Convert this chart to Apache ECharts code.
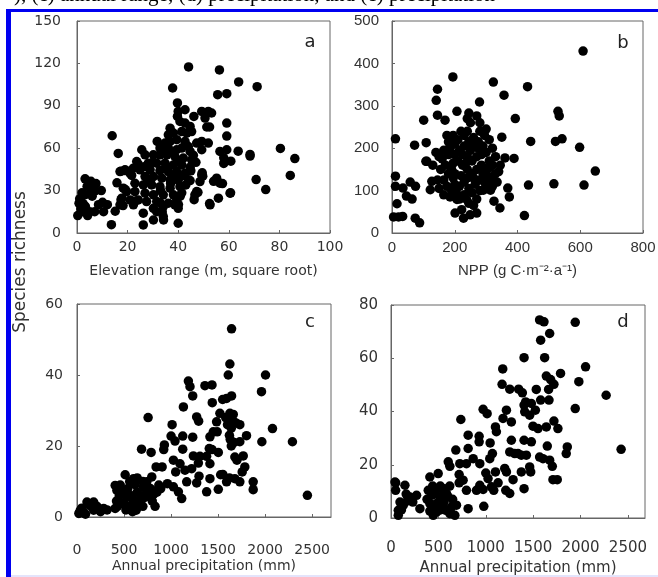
<!DOCTYPE html>
<html><head><meta charset="utf-8">
<script src="https://cdn.jsdelivr.net/npm/echarts@6/dist/echarts.min.js"></script>
<style>html,body{margin:0;padding:0;background:#fff}#c{width:658px;height:577px}</style>
</head><body><div id="c"></div>
<script>
// ---------- DATA ----------
const yTitle = "Species richness";
const panelLetters = ["a", "b", "c", "d"];
const xTitles = ["Elevation range (m, square root)", "NPP (g C·m⁻²·a⁻¹)", "Annual precipitation (mm)", "Annual precipitation (mm)"];
const captionText = "), (c) annual range, (d) precipitation, and (c) precipitation";

const pointsA = [
[44.1,117.5],[56.3,115.4],[63.9,106.9],[71.2,103.5],[37.8,102.6],[55.6,97.9],[59.2,98.6],[39.7,92],[40,86],[39.7,82.5],[42.7,87.2],[46.2,82.5],[49.3,86],[51.9,86],[53.2,84.9],[50.6,81.3],[51.3,75],[52.4,75],[59.2,77.8],[40.7,78.9],[42.7,77.8],[44.7,75.4],[36.8,74.2],[38.1,70.7],[41.4,71.8],[43.4,70.7],[45.3,71.8],[36.1,69.5],
[47.3,63.6],[51.9,63.6],[49.3,64.8],[34.8,63.6],[36.8,64.8],[39.4,66],[42.7,64.8],[31.7,64.8],[59.2,68.6],[13.9,68.8],[32.8,60.1],[36.1,60.1],[39.4,58.9],[41.4,60.1],[44,61.2],[44.7,57.7],[49.3,58.9],[56.5,57.7],[59.2,58.9],[63.7,57.9],[68.4,55.6],[68.4,54.4],[80.4,59.8],[86.1,52.7],[84.3,40.7],[70.8,37.8],[74.6,30.7],[60.7,28.4],[55.9,24.6],[52.4,20.8],[54,36.6],[57.5,35],[49.5,42.6],[49.7,40.2],[47.8,28.8],[46.3,23.6],[58,53.2],[60.8,50.8],[58,49.2],[16.3,56.3],
[25.6,58.9],[26.9,55.3],[30.2,55.3],[32.8,55.3],[35.5,55.3],[38.7,54.1],[42,53],[45.3,51.8],[23.6,50.6],[28.2,49.4],[31.5,49.4],[34.8,49.4],[38.1,48.2],[41.4,48.2],[44.7,46.6],[19,44.7],[22.3,45.9],[24.9,44.7],[28.9,44.7],[32.8,44.2],[36.1,43.5],[39.4,43.5],[42.7,42.3],[17,43.5],[20.9,42.3],[26.9,39.9],[30.2,39.9],[33.5,38.8],[36.8,37.6],[40,37.6],[44,37.6],[49.3,41.1],[48.6,36.4],[55.2,38.8],[56.5,35.2],
[22.9,35.2],[26.2,34],[29.5,34],[32.8,32.8],[36.8,31.7],[40.7,32.8],[18.3,31.7],[19.6,29.3],[22.9,29.3],[26.9,28.2],[30.2,27],[34.1,27],[38.1,27],[47.3,29.3],[60.5,28.2],[17.7,24.6],[21,23.4],[24.2,23.4],[27.5,22.2],[31.5,22.2],[36.1,21.1],[39.4,23.4],[46.6,27],[17,19.9],[22.3,19.9],[30.2,17.5],[34.1,18.7],[38.7,19.9],[40,17.5],[52.6,19.9],[26.2,14],[31.5,15.1],[34.1,11.6],[30.2,9.2],[26.2,5.7],[40,6.9],[13.6,5.9],[15.1,15.4],[15.8,35.5],[17.4,43.7],[18.7,44.2],[17.4,23.6],[18.2,19.4],[19.1,30.7],[20.8,43.7],[21.6,40.7],[22.9,22.5],[24.3,48.5],
[3.2,38.3],[5.5,36.6],[2,28.4],[1.05,24.1],[0.3,12.3],[2.4,20.8],[3.3,18.9],[4.2,12.3],[5,15.1],[7,15.1],[10.1,21.7],[10.5,15.1],[5.5,30.7],[9.6,30],[7,29.6],[0.8,21],[1.5,17],[6,26],[8.5,20],[12,20],[3,27],[4,33],[7.5,35],[2,15],
[44.7,37.1],[41.4,28.4],[40.8,26],[40.1,20.1],[32.9,21.3],[33.7,14.9],[34.2,9.2],[46,55],[47,50],[45,44],[38,40],[35,46],[30,50],[27,47],[29,36],[33,30],[37,35],[41,40],[43,34],[40,51],[37,57],[34,58]
];

const pointsB = [
[609,429],[194,368],[323,356],[432,345],[145,339],[357,325],[141,313],[279,309],[145,278],[207,287],[245,283],[270,276],[101,266],[169,266],[393,270],[529,287],[533,276],[542,222],[521,216],[598,202],[442,216],[350,226],[11,222],[72,207],[109,213],[111,169],[648,146],[612,113],[516,116],[435,113],[369,106],[389,176],[360,177],[374,85],[422,41],[344,59],[325,75],[11,134],[11,110],[35,106],[58,120],[75,110],[46,87],[64,80],[16,69],[5,38],[21,38],[34,39],[74,35],[88,24],[122,102],[127,122],[108,169],[207,79],[201,47],[222,55],[228,35],[249,43],[270,47],[238,79],[270,80],[291,101],[314,101],[311,154],
[140,190],[150,180],[160,175],[175,230],[180,215],[185,200],[170,160],[155,150],[180,140],[195,130],[165,125],[175,110],[190,100],[205,95],[215,110],[230,120],[245,105],[255,95],[265,115],[280,125],[295,120],[305,135],[320,130],[330,140],[340,145],[300,150],[285,160],[270,150],[255,140],[240,150],[225,160],[210,170],[195,165],[200,185],[215,195],[230,205],[245,215],[260,225],[275,215],[290,205],[300,190],[285,185],[270,180],[255,170],[240,180],[225,185],[210,220],[195,230],[220,240],[240,240],[260,210],[280,240],[300,245],[310,220],[320,200],[330,180],[310,170],[320,160],[345,160],[335,120],[320,110],[300,110],[280,100],[260,130],[240,130],[220,135],[200,140],[190,150],[180,185],[165,195],[230,230],[250,260],[280,260],[240,270],[200,210],[145,125],[130,160],[150,105],[165,90],[185,85],[200,115],[215,80],[245,70],[260,65],[230,90],[290,140],[310,125],[295,230],[275,200],[250,195],[235,165]
];

const pointsC = [
[1643,53],[1625,43.1],[1608,40],[2004,40],[1961,35.3],[1184,38.3],[1201,36.7],[1230,34.1],[1435,37.2],[1360,37],[1131,31],[1438,32.2],[1548,33.1],[1590,33.4],[1643,34.1],[756,28],[1272,28.2],[1293,27],[1519,29.2],[1625,29.2],[1661,28.9],[1484,26.8],[1011,26],[1731,26],[2078,24.9],[1802,22.9],[2290,21.2],[1965,21.2],[1731,21.2],[1629,21.8],[1230,22.5],[1124,22.8],[1000,22.8],[1042,21.4],[929,20.3],[922,19],[686,19.1],[788,18.2],[1413,22.6],[1449,24],[1124,19.1],[1237,17.2],[1307,17.1],[1406,19.3],[1435,19],[1378,17.1],[1413,15],[1502,18.2],[1678,16.9],[1767,17.2],[1784,14.1],[1756,12.7],[1678,10.8],[1731,9.9],[1873,9.9],[1873,7.7],[2449,6.1],[1502,7.8],[1378,7.1],[1413,10.8],[1527,11.9],[1590,9.9],[1272,9.6],[1297,11.5],[1166,9.9],[1113,5.2],[1078,7.1],[1025,8.5],[961,9.4],[905,14.1],[841,14.1],[795,11.3],[742,9.9],[1025,16],[1095,15],[1148,13.2],[1219,13.6],[1290,15.2],[1049,12.7],
[1600,26],[1640,25],[1660,27],[1690,26.5],[1580,28],[1640,20],[1620,23],[1490,24],[1550,12],[1620,11],[1700,16],[1670,21],
[35,1.9],[71,1.4],[106,4.2],[177,4.2],[177,1.9],[212,3],[283,2.4],[406,2.4],[406,8.9],[424,7.5],[512,11.9],[601,10.8],[618,9.1],[707,8.5],[742,7.1],[830,3],[813,6.4],[671,5.2],[629,1.9],[530,5.6],[477,3.8],[20,1],[50,2.5],[90,0.8],[140,3.2],[250,1.5],[320,2],[420,4.5],[450,6],[480,7],[500,4],[540,8],[560,3],[580,6],[600,4.5],[640,7],[650,3.5],[690,6],[700,3],[720,5.5],[760,6.5],[780,8],[800,4.5],[850,7],[870,9],[890,8],[560,10],[640,11],[700,10],[460,9],[430,3],[520,2],[590,1.5],[848,7.5]
];

const pointsD = [
[1568,74.4],[1614,73.7],[1944,73.5],[1674,69.3],[1579,66.8],[1621,60.2],[1404,60.2],[2053,56.8],[1179,56],[1789,54.3],[1639,53.3],[1684,52],[1719,50.2],[1982,51.2],[1172,50.2],[1253,48.4],[1347,48.4],[1386,47],[1533,48.3],[1663,48.3],[2270,46.1],[1579,44.3],[1667,44.3],[1421,43.6],[1481,43],[1404,42.4],[1411,39.9],[1523,40.5],[1463,38.6],[972,40.8],[1014,39.2],[1218,40.5],[1182,37.4],[1270,36.1],[737,37],[1944,41.1],[1498,34.5],[1551,33.6],[1639,34.2],[1719,36.4],[1761,33.6],[1102,34.2],[1112,32.4],[814,31.1],[930,30.7],[930,28.6],[1270,29.2],[1404,29.2],[1481,28.6],[1649,27],[1860,26.7],[1849,24.2],[2428,25.8],[1046,28.2],[814,26.1],[684,25.5],[1253,24.8],[1305,24.2],[1340,24.2],[1375,23.6],[1428,23.6],[1568,22.9],[1604,22.3],[1674,21.7],[1702,19.4],[1070,24.2],[1042,22.3],[867,22.3],[937,20.4],[796,20.4],[726,20.4],[604,21.1],[621,19.4],[719,16.3],[761,14.2],[719,13.2],[796,10.4],[937,12.3],[1000,16.9],[1024,14.8],[1060,11.7],[972,10.7],[902,10.4],[979,4.4],[814,3.5],[1102,17.3],[1200,18.6],[1218,17.3],[1288,14.4],[1211,10.4],[1253,9.2],[1404,11],[1375,17.3],[1463,19.2],[1474,17.3],[1709,14.4],[1754,14.4],[1130,13.2],[1084,10.4],
[49,13.2],[49,10.4],[147,12.3],[95,6],[77,2.9],[77,1],[130,4.8],[172,6.4],[200,7.9],[270,8.5],[305,3.5],[410,15.4],[393,10.4],[428,8.5],[488,11],[516,7.9],[551,10.4],[586,9.2],[410,5.4],[481,5.4],[410,2.6],[481,2.3],[579,2.9],[639,4.1],[621,1.6],[674,1],[446,1],[533,5.6],[691,4.8],[498,16.7],[42,13.5],[110,3],[160,9],[230,6],[380,7],[440,12],[460,9],[520,12],[560,6],[600,8],[620,12],[650,7],[520,3],[600,3],[450,4],[560,11]
];

// ---------- CHART ----------
const AX = '#666', LBL = '#333';
const grids = [
  {left: 77, top: 21, width: 253, height: 212},
  {left: 392, top: 21, width: 251, height: 212},
  {left: 77, top: 304, width: 254, height: 213},
  {left: 391, top: 305, width: 254, height: 213}
];
grids.forEach(g => { g.show = true; g.borderColor = AX; g.borderWidth = 1; g.backgroundColor = 'transparent'; g.containLabel = false; g.outerBoundsMode = 'none'; });

const xCfg = [
  {max: 100, interval: 20, font: 'DejaVu Sans', size: 14, margin: 7, gap: 31, nsize: 14, nfont: 'DejaVu Sans'},
  {max: 800, interval: 200, font: 'Liberation Sans', size: 15, margin: 7, gap: 30, nsize: 15, nfont: 'Liberation Sans'},
  {max: 2700, interval: 500, font: 'DejaVu Sans', size: 14, margin: 26, gap: 42, nsize: 14, nfont: 'DejaVu Sans'},
  {max: 2680, interval: 500, font: 'DejaVu Sans', size: 15, margin: 23, gap: 43, nsize: 15, nfont: 'DejaVu Sans'}
];
const yCfg = [
  {max: 150, interval: 30, font: 'DejaVu Sans', size: 14, margin: 16},
  {max: 500, interval: 100, font: 'Liberation Sans', size: 15, margin: 13},
  {max: 60, interval: 20, font: 'DejaVu Sans', size: 14, margin: 14},
  {max: 80, interval: 20, font: 'DejaVu Sans', size: 15, margin: 13}
];
const plain = v => String(v);

const xAxis = xCfg.map((c, i) => ({
  gridIndex: i, type: 'value', min: 0, max: c.max, interval: c.interval,
  axisLine: {show: true, lineStyle: {color: AX}}, axisTick: {show: true, inside: true, length: 3, lineStyle: {color: AX}},
  splitLine: {show: false},
  axisLabel: {color: LBL, fontFamily: c.font, fontSize: c.size, margin: c.margin, formatter: plain, showMaxLabel: c.max % c.interval === 0},
  name: xTitles[i], nameLocation: 'middle', nameGap: c.gap, nameMoveOverlap: false,
  nameTextStyle: {color: LBL, fontFamily: c.nfont, fontSize: c.nsize}
}));
const yAxis = yCfg.map((c, i) => ({
  gridIndex: i, type: 'value', min: 0, max: c.max, interval: c.interval,
  axisLine: {show: true, lineStyle: {color: AX}}, axisTick: {show: true, inside: true, length: 3, lineStyle: {color: AX}},
  splitLine: {show: false},
  axisLabel: {color: LBL, fontFamily: c.font, fontSize: c.size, margin: c.margin, formatter: plain}
}));
const allData = [pointsA, pointsB, pointsC, pointsD];
const series = allData.map((d, i) => ({
  type: 'scatter', xAxisIndex: i, yAxisIndex: i, data: d, symbol: 'circle', symbolSize: 9.5,
  itemStyle: {color: '#000', opacity: 1}, silent: true
}));

const letterPos = [[310, 42], [623, 43], [310, 322], [623, 322]];
const graphic = [
  {type: 'text', x: 14, y: 6, style: {text: captionText, font: '21px "Liberation Serif"', fill: '#000', verticalAlign: 'bottom', align: 'left'}, silent: true},
  {type: 'rect', shape: {x: 6, y: 9, width: 652, height: 3}, style: {fill: '#0000f0'}, silent: true},
  {type: 'rect', shape: {x: 6, y: 9, width: 5, height: 568}, style: {fill: '#0000f0'}, silent: true},
  {type: 'rect', shape: {x: 11, y: 575, width: 647, height: 2}, style: {fill: '#e4e4fb'}, silent: true},
  {type: 'text', x: 21, y: 262, rotation: Math.PI / 2, style: {text: yTitle, font: '17px "DejaVu Sans"', fill: LBL, align: 'center', verticalAlign: 'middle'}, silent: true}
].concat(panelLetters.map((t, i) => ({
  type: 'text', x: letterPos[i][0], y: letterPos[i][1],
  style: {text: t, font: '18px "DejaVu Sans"', fill: '#222', align: 'center', verticalAlign: 'middle'}, silent: true
})));

const chart = echarts.init(document.getElementById('c'), null, {renderer: 'canvas'});
chart.setOption({
  animation: false, backgroundColor: '#fff',
  grid: grids, xAxis, yAxis, series, graphic
});
</script></body></html>
